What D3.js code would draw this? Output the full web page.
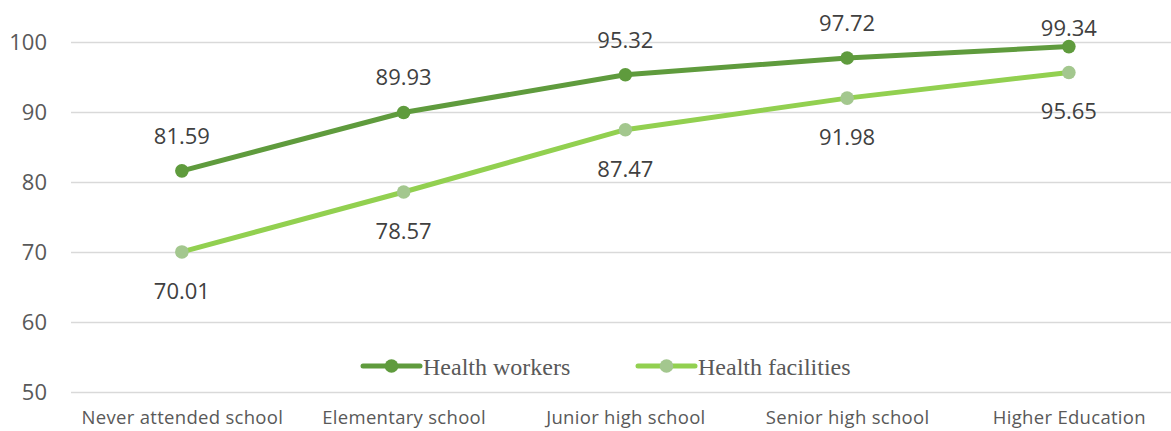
<!DOCTYPE html>
<html>
<head>
<meta charset="utf-8">
<script src="https://cdn.jsdelivr.net/npm/d3@7"></script>
<style>
  html, body { margin: 0; padding: 0; background: #ffffff; }
  svg { display: block; }
</style>
</head>
<body>
<svg id="chart" width="1171" height="431"></svg>
<script>
const categories = ["Never attended school", "Elementary school", "Junior high school", "Senior high school", "Higher Education"];
const healthWorkers = [81.59, 89.93, 95.32, 97.72, 99.34];
const healthFacilities = [70.01, 78.57, 87.47, 91.98, 95.65];
const yTicks = [50, 60, 70, 80, 90, 100];
const seriesNames = ["Health workers", "Health facilities"];

const W = 1171, H = 431;
const left = 71, band = 221.75;
const svg = d3.select("#chart");

const x = d3.scalePoint().domain(categories).range([left, left + band * 5]).padding(0.5);
const y = d3.scaleLinear().domain([50, 100]).range([392, 42]);

// gridlines
const yAxis = d3.axisLeft(y).tickValues(yTicks).tickSize(-(W - left)).tickPadding(24).tickFormat(d3.format("d"));
const gy = svg.append("g").attr("transform", `translate(${left},0)`).call(yAxis);
gy.select(".domain").remove();
gy.selectAll(".tick line").attr("stroke", "#d9d9d9").attr("stroke-width", 1.3);
gy.selectAll(".tick text").attr("fill", "#595959").style("font-family", "'Open Sans', sans-serif").style("font-size", "22px").attr("dy", "0.36em");

// x axis labels
const xAxis = d3.axisBottom(x).tickSize(0).tickPadding(0);
const gx = svg.append("g").attr("transform", `translate(0,392)`).call(xAxis);
gx.select(".domain").remove();
gx.selectAll(".tick text").attr("fill", "#595959").style("font-family", "'Open Sans', sans-serif").style("font-size", "18.5px").style("letter-spacing", "0.3px").attr("y", 32).attr("dy", 0);

const series = [
  { name: seriesNames[0], values: healthWorkers, line: "#5f9b3d", marker: "#5f9b3d", above: true },
  { name: seriesNames[1], values: healthFacilities, line: "#92d050", marker: "#a3c78e", above: false }
];

const lineGen = d3.line().x((d, i) => x(categories[i])).y(d => y(d));

series.slice().reverse().forEach(s => {
  svg.append("path").datum(s.values).attr("d", lineGen)
    .attr("fill", "none").attr("stroke", s.line).attr("stroke-width", 5).attr("stroke-linecap", "round").attr("stroke-linejoin", "round");
  svg.selectAll(null).data(s.values).enter().append("circle")
    .attr("cx", (d, i) => x(categories[i])).attr("cy", d => y(d)).attr("r", 6.8).attr("fill", s.marker);
});

series.forEach(s => {
  svg.selectAll(null).data(s.values).enter().append("text")
    .attr("x", (d, i) => x(categories[i]))
    .attr("y", d => {
      const py = y(d);
      if (s.above) { const b = py - 27; return b < 25 ? py - 11 : b; }
      return py + 47;
    })
    .attr("text-anchor", "middle")
    .attr("fill", "#404040")
    .style("font-family", "'Open Sans', sans-serif").style("font-size", "22px")
    .text(d => d.toFixed(2));
});

// legend
const legendItems = [
  { s: series[0], x0: 363 },
  { s: series[1], x0: 638 }
];
legendItems.forEach(it => {
  const g = svg.append("g").attr("transform", `translate(${it.x0},366)`);
  g.append("line").attr("x1", 0).attr("x2", 57).attr("y1", 0).attr("y2", 0)
    .attr("stroke", it.s.line).attr("stroke-width", 5).attr("stroke-linecap", "round");
  g.append("circle").attr("cx", 28.5).attr("cy", 0).attr("r", 6.8).attr("fill", it.s.marker);
  g.append("text").attr("x", 60).attr("y", 9).attr("fill", "#595959")
    .style("font-family", "'Liberation Serif', 'Times New Roman', serif").style("font-size", "24px")
    .text(it.s.name);
});
</script>
</body>
</html>
